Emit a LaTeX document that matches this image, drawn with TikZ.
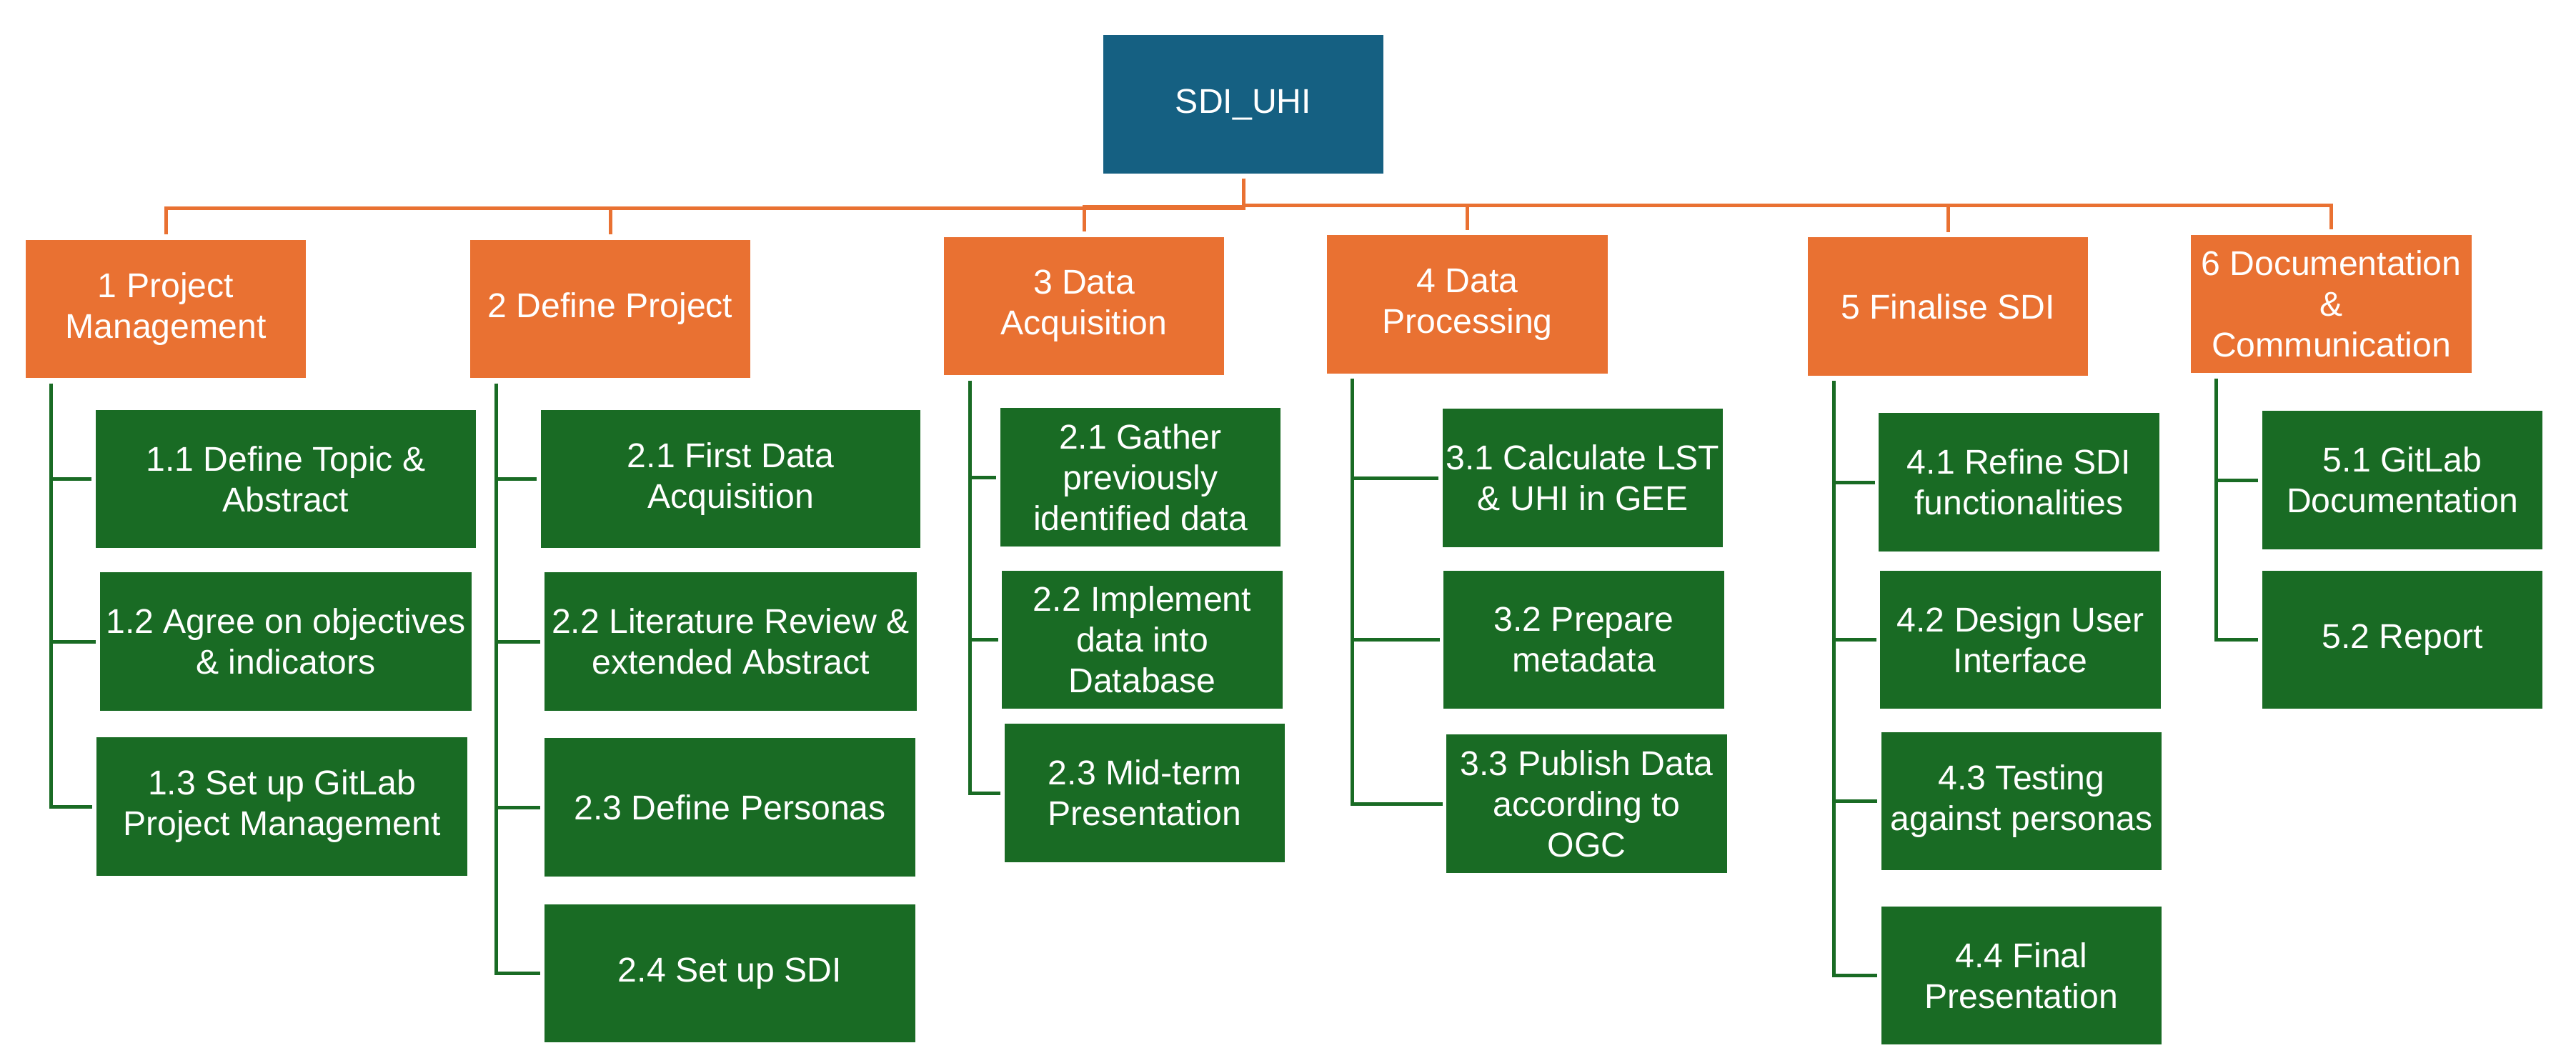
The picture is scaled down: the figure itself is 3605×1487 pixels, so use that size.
\documentclass[tikz,border=0pt]{standalone}
\usepackage{fontspec}
\setmainfont{Liberation Sans}
\definecolor{cblue}{HTML}{156082}
\definecolor{corange}{HTML}{E97132}
\definecolor{cgreen}{HTML}{196B24}
\newcommand{\boxfont}{\fontsize{13.7pt}{16.2pt}\selectfont}
\tikzset{
  basebox/.style={draw=none, inner sep=0pt, text=white, align=center, font=\boxfont},
  rootbox/.style={basebox, fill=cblue, minimum width=3.92cm, minimum height=1.94cm},
  orbox/.style={basebox, fill=corange, minimum width=3.92cm, minimum height=1.93cm},
  grbox/.style={basebox, fill=cgreen, minimum width=3.92cm, minimum height=1.93cm},
  oline/.style={draw=corange, line width=0.05cm},
  gline/.style={draw=cgreen, line width=0.05cm, shorten >=0.05cm},
}
\begin{document}
\begin{tikzpicture}[x=0.01cm, y=-0.01cm]
\useasboundingbox (0,0) rectangle (3605,1487);
% root
\node[rootbox] (root) at (1740,146) {SDI\_UHI};
% level 1
\node[orbox] (p1) at (232,432.5) {1 Project\\Management};
\node[orbox] (p2) at (854,432.5) {2 Define Project};
\node[orbox] (p3) at (1517,428.5) {3 Data\\Acquisition};
\node[orbox] (p4) at (2053.5,426) {4 Data\\Processing};
\node[orbox] (p5) at (2726,429) {5 Finalise SDI};
\node[orbox] (p6) at (3262.5,425.5) {6 Documentation\\\&\\Communication};
% level 2 - column 1
\node[grbox, minimum width=5.32cm] (g11) at (400,670.5) {1.1 Define Topic \&\\Abstract};
\node[grbox, minimum width=5.20cm] (g12) at (400,898) {1.2 Agree on objectives\\\& indicators};
\node[grbox, minimum width=5.19cm] (g13) at (394.5,1129) {1.3 Set up GitLab\\Project Management};
% column 2
\node[grbox, minimum width=5.31cm] (g21) at (1022.5,670.5) {2.1 First Data\\Acquisition};
\node[grbox, minimum width=5.21cm] (g22) at (1022.5,898) {2.2 Literature Review \&\\extended Abstract};
\node[grbox, minimum width=5.19cm] (g23) at (1021.5,1130) {2.3 Define Personas};
\node[grbox, minimum width=5.19cm] (g24) at (1021.5,1362.5) {2.4 Set up SDI};
% column 3
\node[grbox] (g31) at (1596,668) {2.1 Gather\\previously\\identified data};
\node[grbox] (g32) at (1598.5,895.5) {2.2 Implement\\data into\\Database};
\node[grbox] (g33) at (1602,1110) {2.3 Mid-term\\Presentation};
% column 4
\node[grbox] (g41) at (2215,669) {3.1 Calculate LST\\\& UHI in GEE};
\node[grbox] (g42) at (2216.5,895.5) {3.2 Prepare\\metadata};
\node[grbox] (g43) at (2220.5,1125) {3.3 Publish Data\\according to\\OGC};
% column 5
\node[grbox] (g51) at (2825.5,675) {4.1 Refine SDI\\functionalities};
\node[grbox] (g52) at (2827.5,895.5) {4.2 Design User\\Interface};
\node[grbox] (g53) at (2829,1121.5) {4.3 Testing\\against personas};
\node[grbox] (g54) at (2829,1365.5) {4.4 Final\\Presentation};
% column 6
\node[grbox] (g61) at (3362,672) {5.1 GitLab\\Documentation};
\node[grbox] (g62) at (3362,895.5) {5.2 Report};
% root connectors
\coordinate (rs) at ([yshift=-0.06cm]root.south);
\draw[oline, shorten >=0.07cm] (rs) -- ++(0,-0.42cm) -| (p1.north);
\draw[oline, shorten >=0.07cm] (rs) -- ++(0,-0.42cm) -| (p2.north);
\draw[oline, shorten >=0.07cm] (rs) -- ++(0,-0.40cm) -| (p3.north);
\draw[oline, shorten >=0.07cm] (rs) -- ++(0,-0.38cm) -| (p4.north);
\draw[oline, shorten >=0.07cm] (rs) -- ++(0,-0.38cm) -| (p5.north);
\draw[oline, shorten >=0.07cm] (rs) -- ++(0,-0.38cm) -| (p6.north);
% column connectors
\coordinate (v1) at ([xshift=0.36cm,yshift=-0.07cm]p1.south west);
\coordinate (v2) at ([xshift=0.37cm,yshift=-0.07cm]p2.south west);
\coordinate (v3) at ([xshift=0.37cm,yshift=-0.07cm]p3.south west);
\coordinate (v4) at ([xshift=0.36cm,yshift=-0.07cm]p4.south west);
\coordinate (v5) at ([xshift=0.37cm,yshift=-0.07cm]p5.south west);
\coordinate (v6) at ([xshift=0.36cm,yshift=-0.07cm]p6.south west);
\foreach \c in {g11,g12,g13} \draw[gline] (v1) |- (\c.west);
\foreach \c in {g21,g22,g23,g24} \draw[gline] (v2) |- (\c.west);
\foreach \c in {g31,g32,g33} \draw[gline] (v3) |- (\c.west);
\foreach \c in {g41,g42,g43} \draw[gline] (v4) |- (\c.west);
\foreach \c in {g51,g52,g53,g54} \draw[gline] (v5) |- (\c.west);
\foreach \c in {g61,g62} \draw[gline] (v6) |- (\c.west);
\end{tikzpicture}
\end{document}
